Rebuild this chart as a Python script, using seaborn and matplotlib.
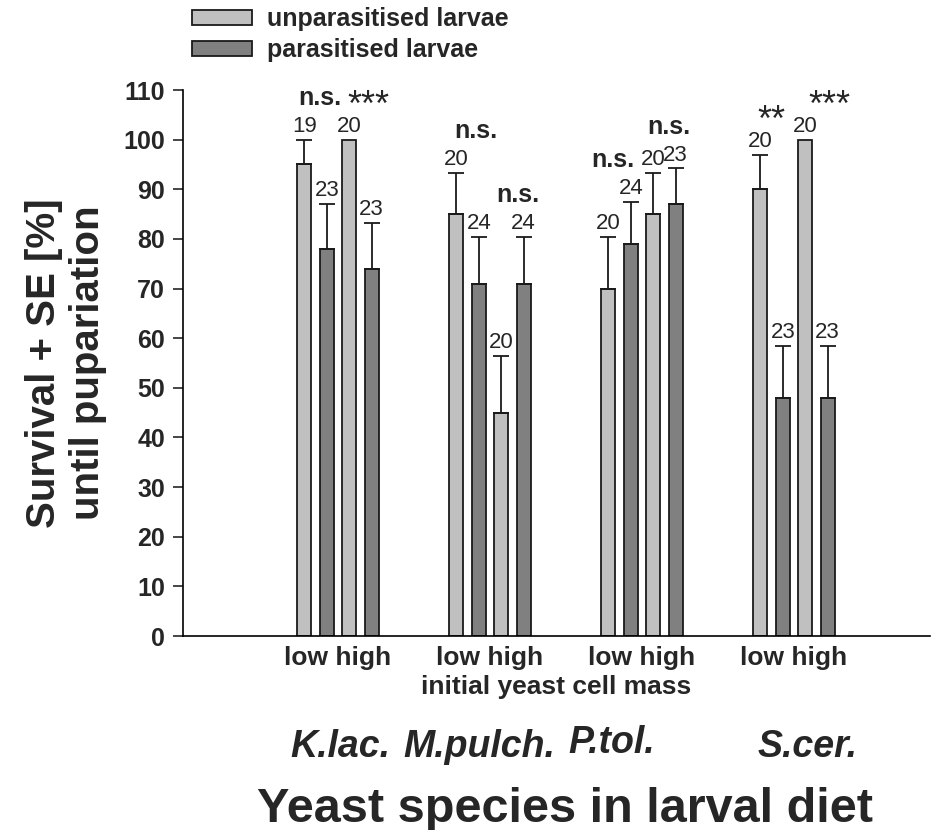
import matplotlib
matplotlib.use("Agg")
import matplotlib.pyplot as plt
import matplotlib.patches as mpatches
import seaborn as sns
import pandas as pd
import numpy as np

# data
species = ["K.lac.", "M.pulch.", "P.tol.", "S.cer."]
treatments = ["low unparasitised", "low parasitised", "high unparasitised", "high parasitised"]

low_unpar = [95, 85, 70, 90]
low_par = [78, 71, 79, 48]
high_unpar = [100, 45, 85, 100]
high_par = [74, 71, 87, 48]

low_unpar_se = [5, 8.3, 10.4, 6.9]
low_par_se = [9, 9.4, 8.5, 10.5]
high_unpar_se = [0, 11.4, 8.3, 0]
high_par_se = [9.2, 9.4, 7.2, 10.5]

low_unpar_n = [19, 20, 20, 20]
low_par_n = [23, 24, 24, 23]
high_unpar_n = [20, 20, 20, 20]
high_par_n = [23, 24, 23, 23]

sig_low = ["n.s.", "n.s.", "n.s.", "**"]
sig_high = ["***", "n.s.", "n.s.", "***"]

values = [low_unpar, low_par, high_unpar, high_par]
errors = [low_unpar_se, low_par_se, high_unpar_se, high_par_se]
counts = [low_unpar_n, low_par_n, high_unpar_n, high_par_n]

light = "#c0c0c0"
dark = "#808080"
edge = "#1a1a1a"

df = pd.DataFrame({
    "species": species * 4,
    "treatment": np.repeat(treatments, len(species)),
    "survival": sum(values, []),
})

sns.set_style("ticks")
plt.rcParams["font.family"] = ["Liberation Sans", "DejaVu Sans"]

fig = plt.figure(figsize=(9.34, 8.3), dpi=100)
ax = fig.add_axes([183 / 934, 1 - 636 / 830, 747 / 934, 546 / 830])

sns.barplot(data=df, x="species", y="survival", hue="treatment",
            hue_order=treatments, order=species,
            palette=[light, dark, light, dark], saturation=1,
            width=0.59, gap=0.38, edgecolor=edge, linewidth=1.3,
            errorbar=None, legend=False, ax=ax)

# error bars (upper only) and n labels
centers = []
tops = []
for cont, se, ns in zip(ax.containers, errors, counts):
    xs = np.array([p.get_x() + p.get_width() / 2 for p in cont.patches])
    hs = np.array([p.get_height() for p in cont.patches])
    se = np.array(se)
    m = se > 0
    ax.errorbar(xs[m], hs[m], yerr=[np.zeros(m.sum()), se[m]], fmt="none",
                ecolor=edge, elinewidth=1.3, capsize=6, capthick=1.3, zorder=1)
    top = hs + se
    for x, t, n in zip(xs, top, ns):
        ax.annotate(str(n), (x, t), xytext=(0, 2), textcoords="offset points",
                    ha="center", va="bottom", fontsize=16)
    centers.append(xs)
    tops.append(top)

# significance labels above each low/high pair (small sideways nudges)
nudge = {0: [3, 6, -5, 0], 2: [6, 4, 3, 9]}
for pair, sigs in ((0, sig_low), (2, sig_high)):
    for i, s in enumerate(sigs):
        x = (centers[pair][i] + centers[pair + 1][i]) / 2
        t = max(tops[pair][i], tops[pair + 1][i])
        if "*" in s:
            ax.annotate(s, (x, t), xytext=(nudge[pair][i], 24), textcoords="offset points",
                        ha="center", va="center", fontsize=26)
        else:
            ax.annotate(s, (x, t), xytext=(nudge[pair][i], 30), textcoords="offset points",
                        ha="center", va="center", fontsize=18, fontweight="bold")

ax.set_ylim(0, 110)
ax.set_xlim(-1.02, 3.895)
ax.set_yticks(range(0, 111, 10))
ax.set_xticks(range(len(species)))
ax.set_xticklabels(["low high"] * len(species))
for lab in ax.get_yticklabels():
    lab.set_fontweight("bold")
    lab.set_fontsize(18)
for lab in ax.get_xticklabels():
    lab.set_fontweight("bold")
    lab.set_fontsize(19)
ax.tick_params(axis="x", length=0, pad=7)
ax.tick_params(axis="y", length=7, width=1.2, direction="out", pad=6)
sns.despine(ax=ax)
for sp in ("left", "bottom"):
    ax.spines[sp].set_linewidth(1.2)
    ax.spines[sp].set_color("black")

ax.set_xlabel("initial yeast cell mass", fontsize=19, fontweight="bold", labelpad=4)
ax.set_ylabel("Survival + SE [%]\nuntil pupariation", fontsize=29, fontweight="bold",
              linespacing=1.2)
ax.yaxis.set_label_coords(-0.102, 0.5)

# species names under the groups
name_shift = [1.5, -8, -22, 10]
name_drop = [80, 80, 77, 80]
for i, name in enumerate(species):
    ax.annotate(name, (i, 0), xycoords=("data", "axes fraction"),
                xytext=(name_shift[i], -name_drop[i]), textcoords="offset points",
                ha="center", va="center", fontsize=27,
                fontweight="bold", style="italic")

fig.text(565 / 934, 1 - 809 / 830, "Yeast species in larval diet",
         ha="center", va="center", fontsize=35, fontweight="bold")

handles = [mpatches.Patch(facecolor=light, edgecolor=edge, linewidth=1.3),
           mpatches.Patch(facecolor=dark, edgecolor=edge, linewidth=1.3)]
fig.legend(handles, ["unparasitised larvae", "parasitised larvae"],
           loc="upper left", bbox_to_anchor=(192 / 934, 1 - 7 / 830),
           frameon=False, prop={"weight": "bold", "size": 18},
           handlelength=2.4, handleheight=0.55, handletextpad=0.6,
           labelspacing=0.3, borderpad=0, borderaxespad=0)

fig.savefig("out.png", dpi=100)
